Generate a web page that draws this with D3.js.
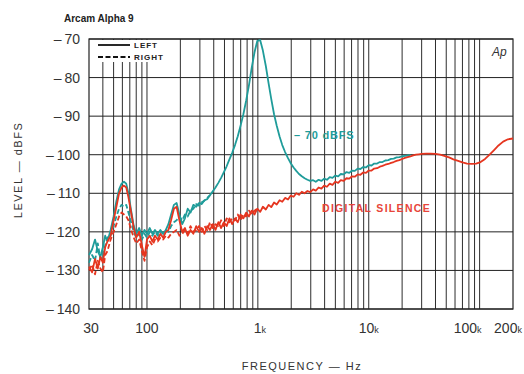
<!DOCTYPE html>
<meta charset="utf-8">
<style>
    body { margin: 0; background: #fff; }
    svg text { font-family: "Liberation Sans", Arial, sans-serif; }
</style>
<script src="https://d3js.org/d3.v7.min.js"></script>
<div id="chart"></div>
<script>

    // frequency points (Hz) shared by every trace
    var freqs = [30, 32, 34, 36, 38, 40, 42, 44, 47, 50,
        53, 56, 59, 62, 65, 68, 72, 76, 80, 85,
        90, 95, 100, 106, 112, 118, 125, 132, 140, 148,
        156, 165, 175, 185, 196, 208, 220, 233, 247, 262,
        278, 295, 312, 330, 350, 370, 392, 415, 440, 466,
        494, 523, 554, 587, 622, 659, 698, 740, 784, 831,
        880, 932, 988, 1050, 1110, 1180, 1250, 1320, 1400, 1480,
        1570, 1660, 1760, 1870, 1980, 2100, 2220, 2350, 2490, 2640,
        2800, 2970, 3150, 3330, 3530, 3740, 3960, 4200, 4450, 4710,
        5000, 5300, 5600, 5940, 6300, 6670, 7070, 7490, 7940, 8410,
        8910, 9440, 10000, 10600, 11200, 11900, 12600, 13300, 14100, 15000,
        15900, 16800, 17800, 18900, 20000, 21200, 22400, 23800, 25200, 26700,
        28300, 30000, 33000, 36000, 40000, 44000, 48000, 53000, 58000, 64000,
        70000, 77000, 85000, 93000, 102000, 112000, 123000, 135000, 148000, 163000,
        180000, 200000];

    // -70 dBFS tone, left channel (solid)
    var tealLeft = [-126, -124.5, -122, -125, -126.5, -124, -121, -122.5, -119.5, -116,
        -112, -109, -107.5, -107, -107.5, -110, -114.5, -118.5, -120.5, -119,
        -121, -119.5, -120.5, -119, -120.5, -119.5, -120.5, -119.5, -120.5, -119.5,
        -118, -115.5, -113, -112.5, -115.5, -118, -116.5, -114, -115, -113,
        -113.5, -112.5, -112.8, -111.8, -111.5, -110.5, -109.5, -108.5, -107.3, -106,
        -104.5, -103, -101.2, -99.5, -97.5, -95.2, -92.5, -89.5, -86, -82,
        -77.5, -73.5, -70.5, -70.3, -73, -77, -81.5, -85.5, -89.5, -92.5,
        -95.3, -97.5, -99.3, -100.9, -102.2, -103.3, -104.2, -105, -105.6, -106.1,
        -106.5, -106.8, -106.6, -107, -106.5, -106.8, -106.2, -106.5, -105.8, -106,
        -105.4, -105.6, -105, -105.1, -104.5, -104.7, -104.1, -104.2, -103.6, -103.7,
        -103.2, -103.3, -102.7, -102.8, -102.3, -102.3, -101.9, -101.9, -101.5, -101.4,
        -101.1, -101, -100.7, -100.6, -100.4, -100.3, -100.2, -100.1];

    // -70 dBFS tone, right channel (dashed)
    var tealRight = [-128, -126, -127.5, -123, -127, -126.5, -123.5, -121.5, -121, -118.5,
        -116, -114, -113, -113.5, -113, -115, -117.5, -120, -121.5, -120.5,
        -122, -120.5, -121.5, -120, -121, -120, -121, -120, -120.5, -119.5,
        -120, -118.5, -117.5, -117, -116, -117, -115.5, -116, -114.5, -114,
        -112.8, -113.2, -112.3, -111.9, -111.2, -110.5];

    // digital silence, left channel (solid)
    var redLeft = [-129, -130.5, -127, -129.5, -126.5, -128, -124, -122.5, -121, -117,
        -113.5, -110, -108.5, -108, -108.5, -111, -115, -119, -121.5, -120,
        -123.5, -126.5, -122, -121, -122.5, -121, -122, -120.5, -121.5, -120,
        -119.5, -117, -114, -113.5, -117, -120, -119, -121, -119.5, -120.5,
        -118.5, -120, -119, -120.5, -118.5, -119.5, -118, -119.5, -117.5, -119,
        -117.5, -118.5, -116.5, -118, -116.5, -117.5, -115.5, -116.5, -115, -116,
        -114.5, -115.5, -114, -114.8, -113.5, -114.2, -113, -113.6, -112.4, -112.9,
        -111.8, -112.2, -111.2, -111.6, -110.6, -110.9, -110, -110.4, -109.6, -110,
        -109.4, -109.7, -109, -109.3, -108.5, -108.8, -108, -108.3, -107.5, -107.8,
        -107, -107.3, -106.6, -106.8, -106.1, -106.2, -105.6, -105.7, -105.1, -105.2,
        -104.6, -104.7, -104.1, -104.1, -103.6, -103.5, -103.1, -102.9, -102.6, -102.4,
        -102.1, -101.9, -101.6, -101.4, -101.1, -100.8, -100.6, -100.4, -100.2, -100,
        -99.9, -99.8, -99.7, -99.7, -99.8, -100, -100.3, -100.7, -101.2, -101.6,
        -102, -102.3, -102.4, -102.3, -101.9, -101.1, -100, -98.8, -97.6, -96.6,
        -96, -95.8];

    // digital silence, right channel (dashed)
    var redRight = [-130, -128.5, -131, -127.5, -129.5, -130.5, -126, -125, -122, -120,
        -118, -116, -115, -115.5, -116, -117, -119.5, -121.5, -123, -122,
        -125, -127.5, -124, -122.5, -123.5, -122, -122.5, -121.5, -122, -121,
        -121.5, -120.5, -120, -119.5, -121, -120.5, -119.5, -120.5, -118.5, -120,
        -119.5, -118.5, -120, -118.5, -119.5, -117.5, -119, -118, -118.5, -117,
        -118.5, -116.5, -117.5, -116.5, -117, -115.5, -117, -115.5, -116, -114.5,
        -115.5, -114.5, -114];

    var levelTicks = [-70, -80, -90, -100, -110, -120, -130, -140];
    var freqTicks = [30, 100, 1000, 10000, 100000, 200000];
    var freqTickLabels = ["30", "100", "1k", "10k", "100k", "200k"];
    var freqGrid = [40, 50, 60, 70, 80, 90, 100, 200, 300, 400, 500, 600, 700, 800, 900,
        1000, 2000, 3000, 4000, 5000, 6000, 7000, 8000, 9000,
        10000, 20000, 30000, 40000, 50000, 60000, 70000, 80000, 90000, 100000];

    var margin = {top: 39, right: 11, bottom: 65, left: 89},
        width = 524 - margin.left - margin.right,
        height = 374 - margin.top - margin.bottom;

    var teal = "#1f9c9a", red = "#e5351f";

    var root = d3.select("#chart")
        .append("svg")
        .attr("width", 524)
        .attr("height", 374);

    var svg = root.append("g")
        .attr("transform", "translate(" + margin.left + "," + margin.top + ")");

    var x = d3.scaleLog().domain([30, 200000]).range([0, width]);
    var y = d3.scaleLinear().domain([-140, -70]).range([height, 0]);

    // grid
    svg.selectAll(".vgrid")
        .data(freqGrid)
        .enter()
        .append("line")
        .attr("x1", function(d) { return x(d); })
        .attr("x2", function(d) { return x(d); })
        .attr("y1", 0)
        .attr("y2", height)
        .style("stroke", "#222")
        .style("stroke-width", 0.95);

    svg.selectAll(".hgrid")
        .data(levelTicks)
        .enter()
        .append("line")
        .attr("x1", 0)
        .attr("x2", width)
        .attr("y1", function(d) { return y(d); })
        .attr("y2", function(d) { return y(d); })
        .style("stroke", "#222")
        .style("stroke-width", 1);

    svg.append("rect")
        .attr("width", width)
        .attr("height", height)
        .style("fill", "none")
        .style("stroke", "#222")
        .style("stroke-width", 1.2);

    // blank area behind legend
    svg.append("rect")
        .attr("x", 2).attr("y", 1)
        .attr("width", 78).attr("height", 22)
        .style("fill", "#fff");

    var line = d3.line()
        .x(function(d) { return x(d[0]); })
        .y(function(d) { return y(d[1]); });

    function pairs(vals) {
        return vals.map(function(v, i) { return [freqs[i], v]; });
    }

    var traces = [
        {vals: tealRight, color: teal, dash: "5,2.5"},
        {vals: tealLeft, color: teal, dash: null},
        {vals: redRight, color: red, dash: "5,2.5"},
        {vals: redLeft, color: red, dash: null}
    ];

    svg.selectAll(".trace")
        .data(traces)
        .enter()
        .append("path")
        .attr("d", function(d) { return line(pairs(d.vals)); })
        .style("fill", "none")
        .style("stroke", function(d) { return d.color; })
        .style("stroke-width", 1.8)
        .style("stroke-linejoin", "round")
        .style("stroke-dasharray", function(d) { return d.dash; });

    // y tick labels
    svg.selectAll(".ylab")
        .data(levelTicks)
        .enter()
        .append("text")
        .attr("x", -9)
        .attr("y", function(d) { return y(d) + 5; })
        .attr("text-anchor", "end")
        .style("font-size", "14px")
        .style("fill", "#333")
        .text(function(d) { return "\u2013\u2009" + Math.abs(d); });

    // x tick labels
    var xNudge = [2, 0, 2, 0, -12, -5];
    var xl = svg.selectAll(".xlab")
        .data(freqTicks)
        .enter()
        .append("text")
        .attr("x", function(d, i) { return x(d) + xNudge[i]; })
        .attr("y", height + 24)
        .attr("text-anchor", "middle")
        .style("font-size", "14px")
        .style("fill", "#333");
    xl.append("tspan")
        .text(function(d, i) { return freqTickLabels[i].replace("k", ""); });
    xl.append("tspan")
        .style("font-size", "9px")
        .text(function(d, i) { return freqTickLabels[i].indexOf("k") >= 0 ? "k" : ""; });

    // axis titles
    root.append("text")
        .attr("x", 302)
        .attr("y", 370)
        .attr("text-anchor", "middle")
        .style("font-size", "11px")
        .style("letter-spacing", "1.5px")
        .style("fill", "#333")
        .text("FREQUENCY \u2014 Hz");

    root.append("text")
        .attr("transform", "translate(22,170) rotate(-90)")
        .attr("text-anchor", "middle")
        .style("font-size", "11px")
        .style("letter-spacing", "1.5px")
        .style("fill", "#333")
        .text("LEVEL \u2014 dBFS");

    root.append("text")
        .attr("x", 64)
        .attr("y", 22)
        .style("font-size", "10px")
        .style("font-weight", "bold")
        .style("fill", "#222")
        .text("Arcam Alpha 9");

    root.append("text")
        .attr("x", 492)
        .attr("y", 56)
        .style("font-size", "12px")
        .style("font-style", "italic")
        .style("fill", "#333")
        .text("Ap");

    // legend
    var legend = [{name: "LEFT", dash: null}, {name: "RIGHT", dash: "5,2.5"}];
    legend.forEach(function(d, i) {
        root.append("line")
            .attr("x1", 98).attr("x2", 130)
            .attr("y1", 45 + i * 12).attr("y2", 45 + i * 12)
            .style("stroke", "#111")
            .style("stroke-width", 1.8)
            .style("stroke-dasharray", d.dash);
        root.append("text")
            .attr("x", 134)
            .attr("y", 48 + i * 12)
            .style("font-size", "8px")
            .style("font-weight", "bold")
            .style("letter-spacing", "1px")
            .style("fill", "#222")
            .text(d.name);
    });

    // curve labels
    root.append("text")
        .attr("x", 294)
        .attr("y", 139)
        .style("font-size", "11px")
        .style("font-weight", "bold")
        .style("letter-spacing", "0.8px")
        .style("fill", teal)
        .text("\u2013 70 dBFS");

    root.append("text")
        .attr("x", 322)
        .attr("y", 212)
        .style("font-size", "10.5px")
        .style("font-weight", "bold")
        .style("letter-spacing", "1.3px")
        .style("fill", "#e8453a")
        .text("DIGITAL SILENCE");

</script>
